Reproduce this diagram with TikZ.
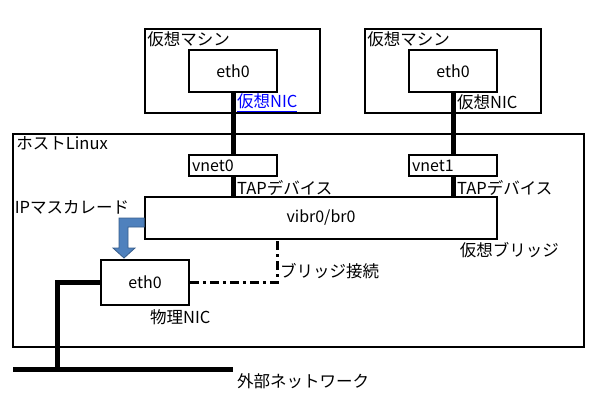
\documentclass[tikz,border=0pt]{standalone}
\usepackage{fontspec}
\setmainfont{Noto Sans CJK JP}
\usepackage{tikz}
\usetikzlibrary{positioning, arrows.meta}
\definecolor{masq_blue}{HTML}{4F81BD}
\definecolor{masq_edge}{HTML}{385D8A}
\tikzstyle{frame_node} = [rectangle, draw=black, line width=1.5pt, inner sep=0pt]
\tikzstyle{nic_node} = [rectangle, draw=black, fill=white, line width=1.5pt, minimum width=88pt, text centered, font=\fontsize{16}{18}\selectfont]
\tikzstyle{tap_node} = [nic_node, minimum height=21pt, text width=82pt, align=left, inner sep=3pt]
\tikzstyle{cable_line} = [line width=5pt]
\tikzstyle{bridge_line} = [line width=3pt, dash pattern=on 9pt off 4pt on 3pt off 4pt]
\tikzstyle{text_label} = [font=\fontsize{16.5}{18}\selectfont, inner sep=1pt]

\begin{document}
\begin{tikzpicture}[x=1pt, y=-1pt]
    \useasboundingbox (0,0) rectangle (599,405);

    % frames
    \node (vm1) [frame_node, minimum width=175pt, minimum height=84pt] at (232.5,71) {};
    \node (vm2) [frame_node, minimum width=176pt, minimum height=84pt] at (453,71) {};
    \node (host) [frame_node, minimum width=571pt, minimum height=213pt] at (298.5,240.5) {};
    \node (vm1_title) [text_label, anchor=north west] at ([xshift=2pt, yshift=-2pt]vm1.north west) {仮想マシン};
    \node (vm2_title) [text_label, anchor=north west] at ([xshift=2pt, yshift=-2pt]vm2.north west) {仮想マシン};
    \node (host_title) [text_label, anchor=north west] at ([xshift=3pt, yshift=-2pt]host.north west) {ホストLinux};

    % cables
    \coordinate (ext_tap) at (57,369);
    \coordinate (ext_left) at (13,369);
    \coordinate (ext_right) at (233,369);
    \node (vm1_nic) [nic_node, minimum height=42pt] at (233,71) {eth0};
    \node (vm2_nic) [nic_node, minimum height=42pt] at (453,71) {eth0};
    \node (vnet0) [tap_node] at (233,165.5) {vnet0};
    \node (vnet1) [tap_node] at (453,165.5) {vnet1};
    \node (vibr) [nic_node, minimum width=352pt, minimum height=42pt] at (321,218) {vibr0/br0};
    \node (pnic) [nic_node, minimum height=45pt] at (145,282.5) {eth0};

    \draw [cable_line] (vm1_nic.south) -- (vnet0.north);
    \draw [cable_line] (vnet0.south) -- (vibr.north -| vnet0.south);
    \draw [cable_line] (vm2_nic.south) -- (vnet1.north);
    \draw [cable_line] (vnet1.south) -- (vibr.north -| vnet1.south);
    \draw [cable_line] (pnic.west) -| (ext_tap);
    \draw [cable_line] (ext_left) -- (ext_right);
    \draw [bridge_line] (pnic.east) -| (vibr.south -| 277,0);

    % IP masquerade arrow
    \filldraw [fill=masq_blue, draw=masq_edge, line width=0.8pt] (vibr.west |- 0,218) -- (119,218) -- (119,248) -- (113,248) -- (124,258) -- (135,248) -- (128,248) -- (128,227) -- (vibr.west |- 0,227) -- cycle;

    % labels
    \node (vm1_nic_label) [text_label, anchor=west, text=blue] at ([xshift=3pt, yshift=-10pt]vm1_nic.south) {\underline{仮想NIC}};
    \node (vm2_nic_label) [text_label, anchor=west] at ([xshift=3pt, yshift=-10pt]vm2_nic.south) {仮想NIC};
    \node (vnet0_label) [text_label, anchor=west] at ([xshift=3pt, yshift=-11pt]vnet0.south) {TAPデバイス};
    \node (vnet1_label) [text_label, anchor=west] at ([xshift=3pt, yshift=-11pt]vnet1.south) {TAPデバイス};
    \node (masq_label) [text_label, anchor=east] at ([xshift=-14pt, yshift=-11pt]vibr.north west) {IPマスカレード};
    \node (vibr_label) [text_label, anchor=west] at ([xshift=-39pt, yshift=-10pt]vibr.south east) {仮想ブリッジ};
    \node (bridge_label) [text_label, anchor=west] at (279,271) {ブリッジ接続};
    \node (pnic_label) [text_label, anchor=north west] at ([xshift=4pt, yshift=-3pt]pnic.south) {物理NIC};
    \node (ext_label) [text_label, anchor=west] at ([xshift=3pt, yshift=-12pt]ext_right) {外部ネットワーク};
\end{tikzpicture}
\end{document}
